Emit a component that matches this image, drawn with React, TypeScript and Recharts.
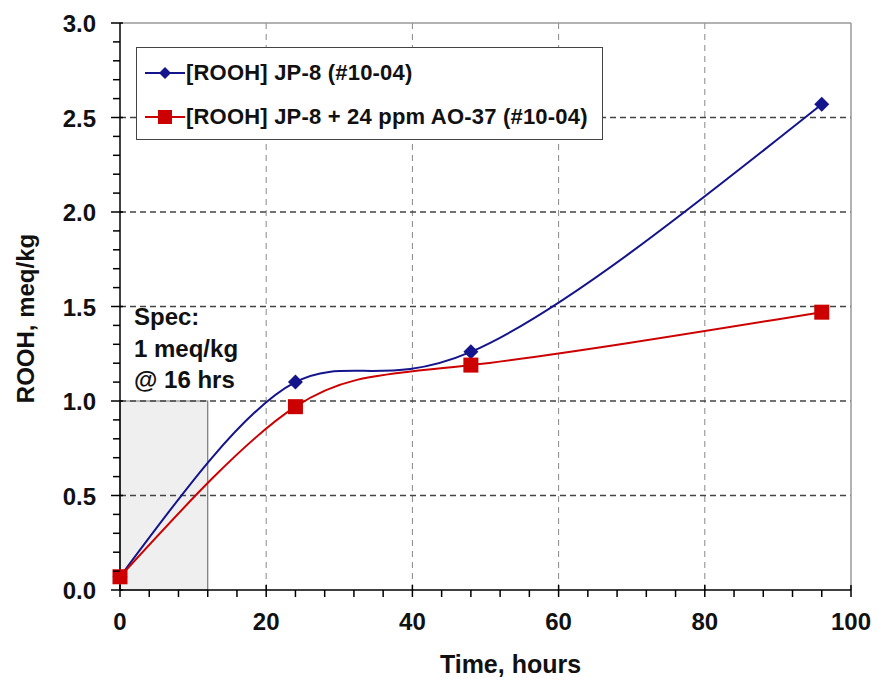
import React from 'react';
import { ComposedChart, Line, XAxis, YAxis, ReferenceLine, ReferenceArea, Legend } from 'recharts';

const times = [0, 24, 48, 96];
const jp8 = [0.07, 1.1, 1.26, 2.57];
const jp8ao = [0.07, 0.97, 1.19, 1.47];
const xTicks = [0, 4, 8, 12, 16, 20, 24, 28, 32, 36, 40, 44, 48, 52, 56, 60, 64, 68, 72, 76, 80, 84, 88, 92, 96, 100];
const xMajor = [0, 20, 40, 60, 80, 100];
const yTicks = [0, 0.1, 0.2, 0.3, 0.4, 0.5, 0.6, 0.7, 0.8, 0.9, 1.0, 1.1, 1.2, 1.3, 1.4, 1.5, 1.6, 1.7, 1.8, 1.9, 2.0, 2.1, 2.2, 2.3, 2.4, 2.5, 2.6, 2.7, 2.8, 2.9, 3.0];
const yMajor = [0, 0.5, 1.0, 1.5, 2.0, 2.5, 3.0];
const xGrid = [20, 40, 60, 80];
const yGrid = [0.5, 1.0, 1.5, 2.0, 2.5];
const specBox = { x1: 0, x2: 12, y1: 0, y2: 1 };
const specLines = ['Spec:', '1 meq/kg', '@ 16 hrs'];
const seriesNames = ['[ROOH] JP-8 (#10-04)', '[ROOH] JP-8 + 24 ppm AO-37 (#10-04)'];

const data = times.map((t, i) => ({ t, a: jp8[i], b: jp8ao[i] }));

const BLUE = '#14148c';
const RED = '#cc0000';
const FONT = '"Liberation Sans", Arial, sans-serif';

const isMajor = (v: number, list: number[]) => list.some((m) => Math.abs(m - v) < 1e-6);

const XTick = (props: any) => {
  const { x, y, payload } = props;
  const major = isMajor(payload.value, xMajor);
  return (
    <g>
      <line x1={x} x2={x} y1={major ? y - 5 : y} y2={y + 7} stroke="#000" strokeWidth={1.5} />
      {major && (
        <text x={x} y={y + 40} textAnchor="middle" fontFamily={FONT} fontWeight="bold" fontSize={24} fill="#111">
          {payload.value}
        </text>
      )}
    </g>
  );
};

const YTick = (props: any) => {
  const { x, y, payload } = props;
  const major = isMajor(payload.value, yMajor);
  return (
    <g>
      <line x1={major ? x - 9 : x - 7} x2={major ? x + 3 : x} y1={y} y2={y} stroke="#000" strokeWidth={1.5} />
      {major && (
        <text x={x - 24} y={y + 9} textAnchor="end" fontFamily={FONT} fontWeight="bold" fontSize={24} fill="#111">
          {payload.value.toFixed(1)}
        </text>
      )}
    </g>
  );
};

const Diamond = (props: any) => {
  const { cx, cy } = props;
  if (cx == null || cy == null) return null;
  const r = 7.5;
  return <path d={`M${cx},${cy - r} L${cx + r},${cy} L${cx},${cy + r} L${cx - r},${cy} Z`} fill={BLUE} />;
};

const Square = (props: any) => {
  const { cx, cy } = props;
  if (cx == null || cy == null) return null;
  return <rect x={cx - 7.5} y={cy - 7.5} width={15} height={15} fill={RED} />;
};

const LegendBox = () => (
  <div
    style={{
      width: 467,
      height: 93,
      border: '1.5px solid #444',
      background: '#fff',
      boxSizing: 'border-box',
      fontFamily: FONT,
      fontWeight: 'bold',
      fontSize: 22,
      color: '#111',
      paddingTop: 12,
    }}
  >
    {seriesNames.map((name, i) => (
      <div key={name} style={{ display: 'flex', alignItems: 'center', height: 26, marginBottom: i === 0 ? 18 : 0, whiteSpace: 'nowrap' }}>
        <svg width={48} height={22} style={{ marginLeft: 8, flexShrink: 0 }}>
          <line x1={0} x2={40} y1={11} y2={11} stroke={i === 0 ? BLUE : RED} strokeWidth={2} />
          {i === 0 ? (
            <path d="M20,5 L26,11 L20,17 L14,11 Z" fill={BLUE} />
          ) : (
            <rect x={13} y={4} width={14} height={14} fill={RED} />
          )}
        </svg>
        <span style={{ marginLeft: -7, letterSpacing: 0.2 }}>{name}</span>
      </div>
    ))}
  </div>
);

const SpecLabel = (props: any) => {
  const { viewBox } = props;
  if (!viewBox) return null;
  const { x, y } = viewBox;
  return (
    <g>
      {specLines.map((s, i) => (
        <text key={s} x={x + 14} y={y - 76 + i * 31.5} fontFamily={FONT} fontWeight="bold" fontSize={24} fill="#111">
          {s}
        </text>
      ))}
    </g>
  );
};

const XLabel = (props: any) => {
  const { viewBox } = props;
  if (!viewBox) return null;
  const { x, y, width } = viewBox;
  return (
    <text x={x + width / 2 + 25} y={y + 83} textAnchor="middle" fontFamily={FONT} fontWeight="bold" fontSize={25} fill="#111">
      Time, hours
    </text>
  );
};

const YLabel = (props: any) => {
  const { viewBox } = props;
  if (!viewBox) return null;
  const { y, height } = viewBox;
  const cy = y + height / 2 + 12;
  return (
    <text x={25} y={cy} transform={`rotate(-90 25 ${cy})`} textAnchor="middle" dominantBaseline="central" fontFamily={FONT} fontWeight="bold" fontSize={24} fill="#111">
      ROOH, meq/kg
    </text>
  );
};

export default function App() {
  return (
    <div style={{ position: 'absolute', left: 0, top: 0, width: 878, height: 679, background: '#fff' }}>
      <ComposedChart width={878} height={679} data={data} margin={{ top: 23, right: 27, bottom: 0, left: 0 }}>
        <XAxis
          type="number"
          dataKey="t"
          domain={[0, 100]}
          ticks={xTicks}
          interval={0}
          tickSize={0}
          tickMargin={0}
          tick={<XTick />}
          height={89}
          stroke="#000"
          strokeWidth={1.5}
          label={<XLabel />}
        />
        <YAxis
          type="number"
          domain={[0, 3]}
          ticks={yTicks}
          interval={0}
          tickSize={0}
          tickMargin={0}
          tick={<YTick />}
          width={120}
          stroke="#000"
          strokeWidth={1.5}
          label={<YLabel />}
        />
        <ReferenceArea
          x1={specBox.x1}
          x2={specBox.x2}
          y1={specBox.y1}
          y2={specBox.y2}
          fill="#efefef"
          fillOpacity={1}
          stroke="#777"
          strokeWidth={1.2}
          label={<SpecLabel />}
        />
        {xGrid.map((v) => (
          <ReferenceLine key={'x' + v} x={v} stroke="#888" strokeDasharray="6 5" strokeWidth={1} />
        ))}
        {yGrid.map((v) => (
          <ReferenceLine key={'y' + v} y={v} stroke="#444" strokeDasharray="6 4" strokeWidth={1.3} />
        ))}
        <ReferenceLine y={3} stroke="#999" strokeWidth={1.5} />
        <ReferenceLine x={100} stroke="#999" strokeWidth={1.5} />
        <Line
          type="natural"
          dataKey="a"
          stroke={BLUE}
          strokeWidth={2}
          dot={<Diamond />}
          activeDot={false}
          isAnimationActive={false}
        />
        <Line
          type="natural"
          dataKey="b"
          stroke={RED}
          strokeWidth={2}
          dot={<Square />}
          activeDot={false}
          isAnimationActive={false}
        />
        <Legend
          layout="vertical"
          align="center"
          verticalAlign="middle"
          content={<LegendBox />}
          wrapperStyle={{ position: 'absolute', left: 136, top: 47, width: 467 }}
        />
      </ComposedChart>
    </div>
  );
}
